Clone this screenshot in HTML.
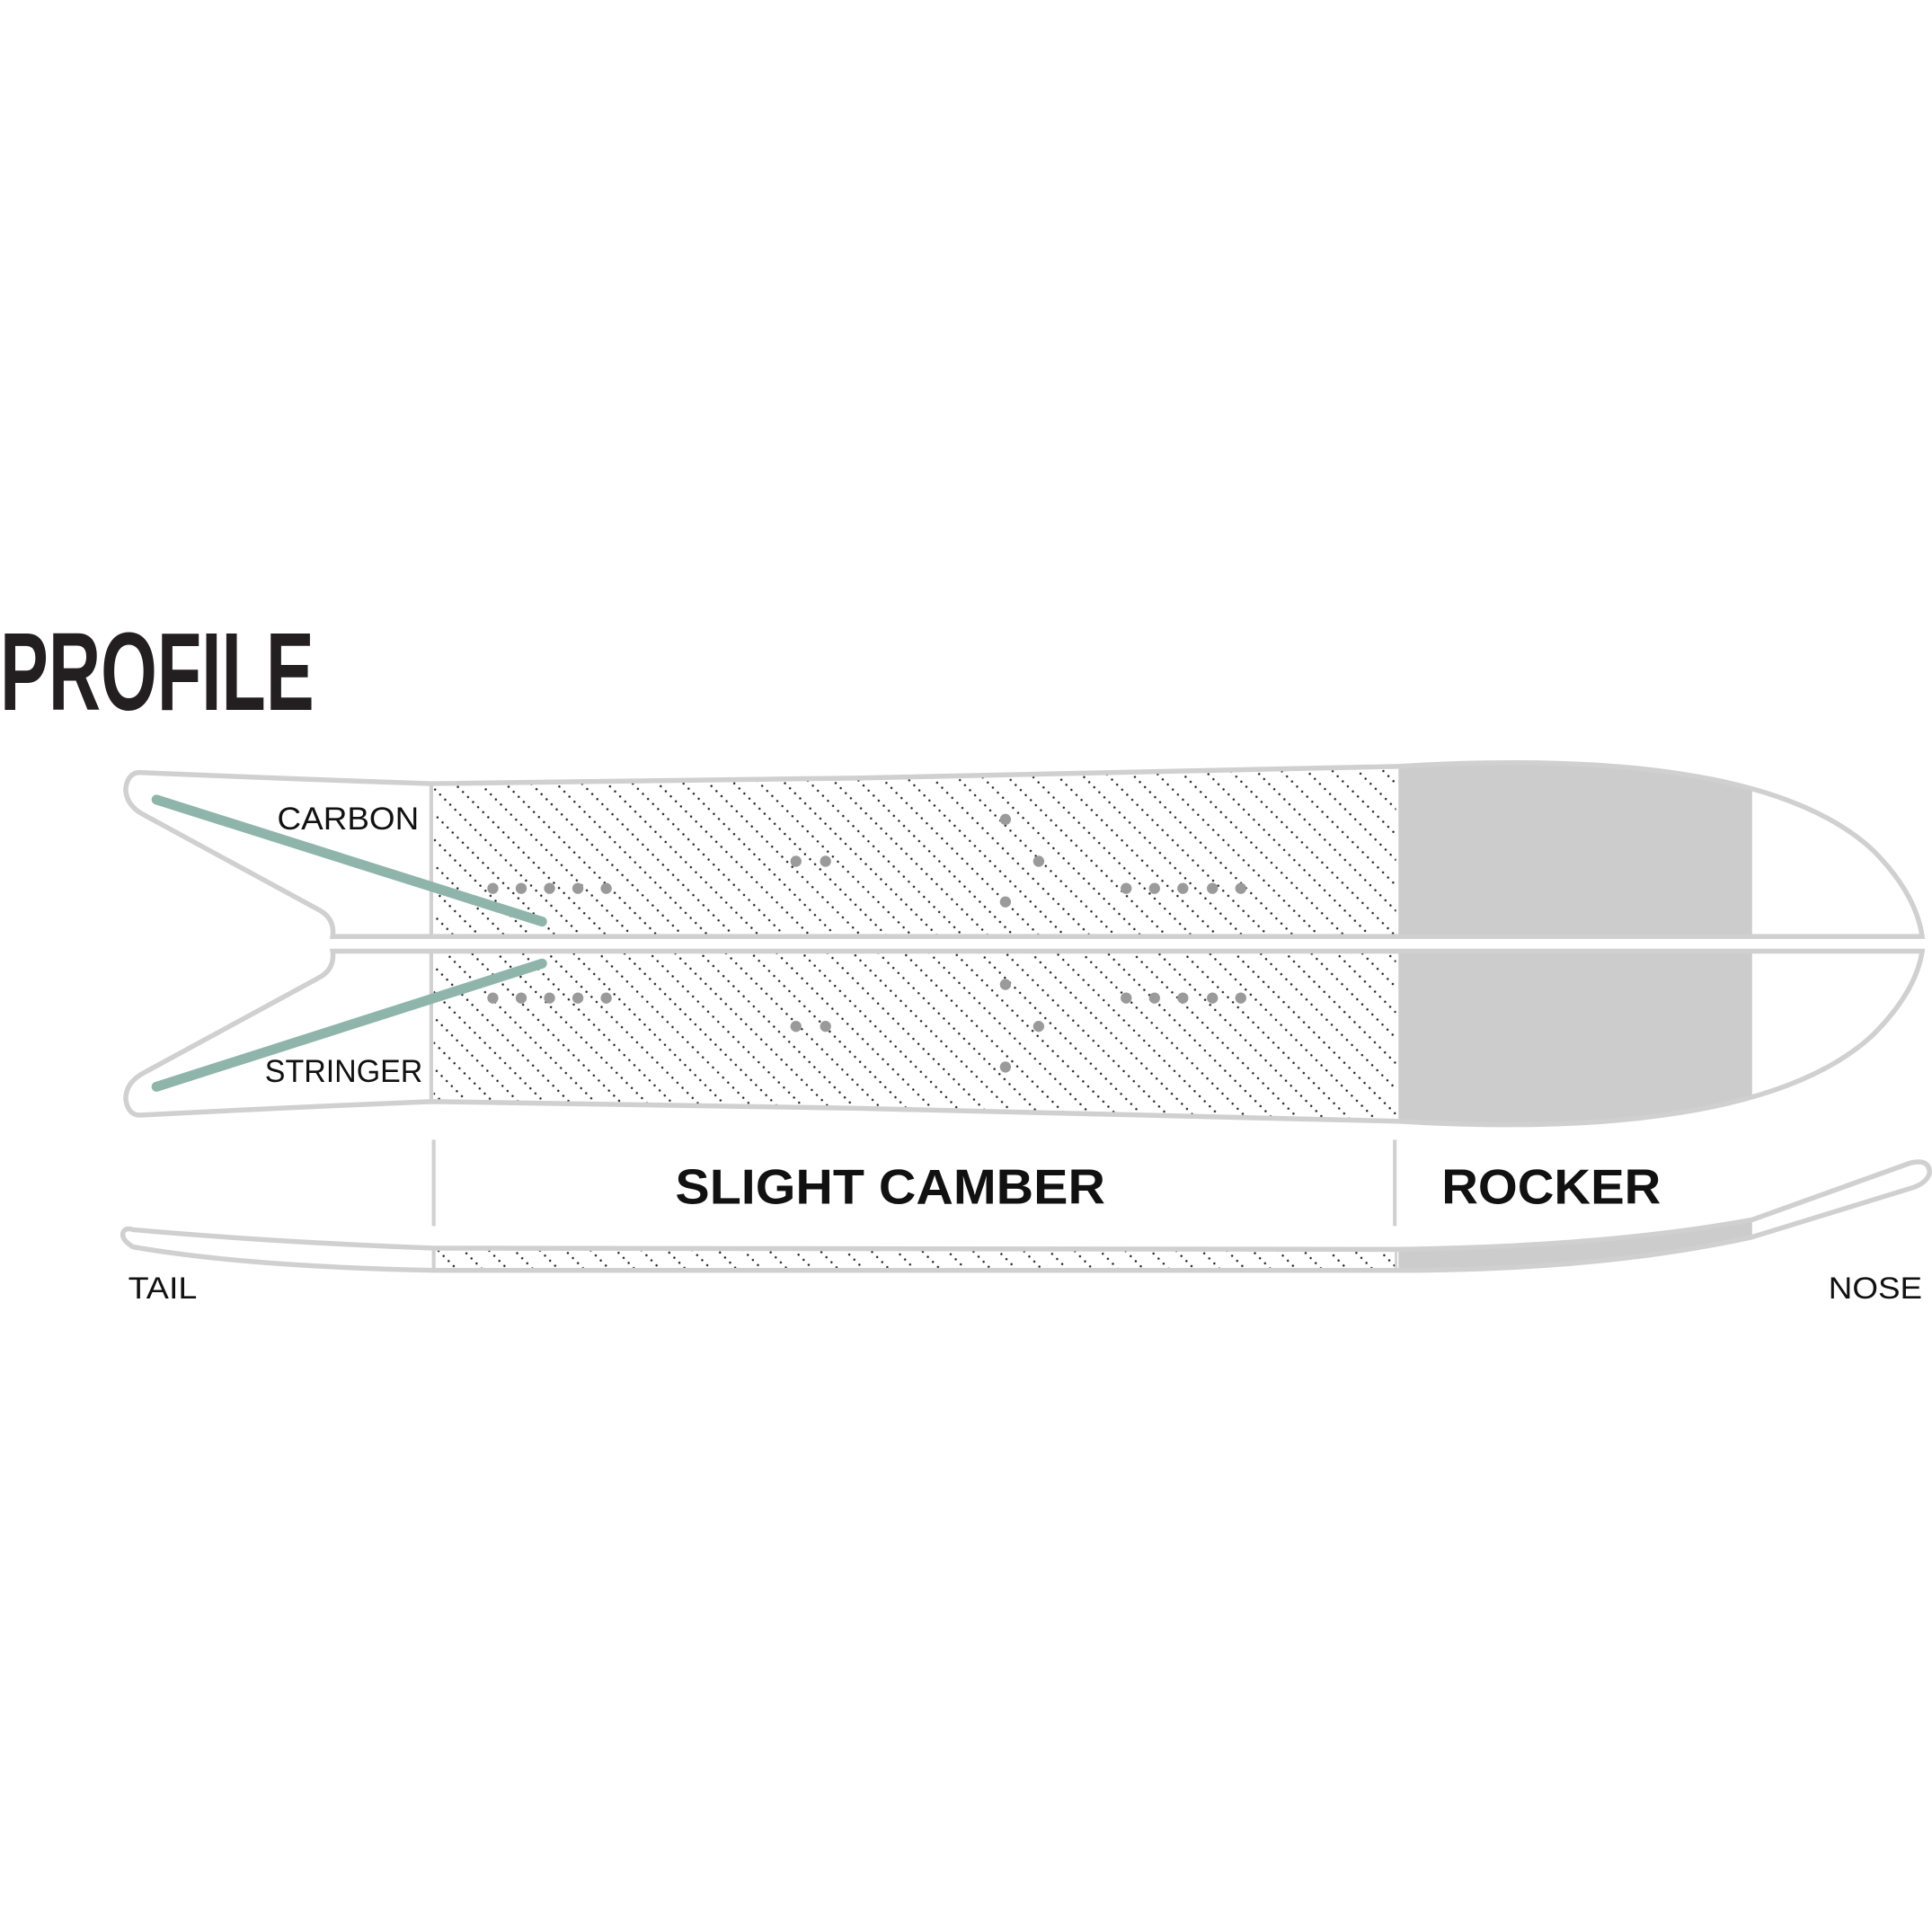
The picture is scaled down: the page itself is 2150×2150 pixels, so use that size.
<!DOCTYPE html>
<html><head><meta charset="utf-8"><style>html,body{margin:0;padding:0;background:#fff}svg{display:block}</style></head>
<body>
<svg width="2150" height="2150" viewBox="0 0 1568 1568" xmlns="http://www.w3.org/2000/svg">
<defs>
<pattern id="h" width="14.6" height="5.8" patternUnits="userSpaceOnUse" patternTransform="rotate(-45)">
<circle cx="1" cy="1" r="0.9" fill="#222"/>
</pattern>
<clipPath id="topc"><path d="M115,627 Q230,632 350,636 C600,634 900,628 1135,622 C1300,612 1450,625 1520,690 Q1555,725 1560,760 L270,760 Q272,745 258,738 L118,662 Q102,654 102,640 Q104,626 115,627 Z"/></clipPath>
<clipPath id="botc"><path d="M270,772 L1560,772 Q1555,805 1520,840 C1450,905 1300,920 1135,910 C900,903 600,897 350,894 Q230,899 115,905 Q104,906 102,892 Q102,878 118,870 L258,794 Q272,787 270,772 Z"/></clipPath>
</defs>
<rect width="1568" height="1568" fill="#fff"/>
<text x="0" y="576" font-family="Liberation Sans Narrow, Liberation Sans, sans-serif" font-weight="bold" font-size="90" fill="#231f20" textLength="255" lengthAdjust="spacingAndGlyphs">PROFILE</text>

<g clip-path="url(#topc)">
<rect x="352" y="600" width="781" height="170" fill="url(#h)"/>
<rect x="1135" y="600" width="287" height="170" fill="#cccccc"/>
</g>
<g clip-path="url(#botc)">
<rect x="352" y="760" width="781" height="170" fill="url(#h)"/>
<rect x="1135" y="760" width="287" height="170" fill="#cccccc"/>
</g>
<path d="M115,627 Q230,632 350,636 C600,634 900,628 1135,622 C1300,612 1450,625 1520,690 Q1555,725 1560,760 L270,760 Q272,745 258,738 L118,662 Q102,654 102,640 Q104,626 115,627 Z" fill="none" stroke="#d0d0d0" stroke-width="4"/>
<path d="M270,772 L1560,772 Q1555,805 1520,840 C1450,905 1300,920 1135,910 C900,903 600,897 350,894 Q230,899 115,905 Q104,906 102,892 Q102,878 118,870 L258,794 Q272,787 270,772 Z" fill="none" stroke="#d0d0d0" stroke-width="4"/>
<line x1="350" y1="636" x2="350" y2="760" stroke="#d0d0d0" stroke-width="3"/>
<line x1="350" y1="772" x2="350" y2="895" stroke="#d0d0d0" stroke-width="3"/>

<g fill="#9a9a9a">
<circle cx="400" cy="721" r="4.5"/><circle cx="423" cy="721" r="4.5"/><circle cx="446" cy="721" r="4.5"/><circle cx="469" cy="721" r="4.5"/><circle cx="492" cy="721" r="4.5"/>
<circle cx="914" cy="721" r="4.5"/><circle cx="937" cy="721" r="4.5"/><circle cx="960" cy="721" r="4.5"/><circle cx="984" cy="721" r="4.5"/><circle cx="1007" cy="721" r="4.5"/>
<circle cx="646" cy="699" r="4.5"/><circle cx="670" cy="699" r="4.5"/><circle cx="843" cy="699" r="4.5"/>
<circle cx="816" cy="665" r="4.5"/><circle cx="816" cy="732" r="4.5"/>
<circle cx="400" cy="810" r="4.5"/><circle cx="423" cy="810" r="4.5"/><circle cx="446" cy="810" r="4.5"/><circle cx="469" cy="810" r="4.5"/><circle cx="492" cy="810" r="4.5"/>
<circle cx="914" cy="810" r="4.5"/><circle cx="937" cy="810" r="4.5"/><circle cx="960" cy="810" r="4.5"/><circle cx="984" cy="810" r="4.5"/><circle cx="1007" cy="810" r="4.5"/>
<circle cx="646" cy="833" r="4.5"/><circle cx="670" cy="833" r="4.5"/><circle cx="843" cy="833" r="4.5"/>
<circle cx="816" cy="799" r="4.5"/><circle cx="816" cy="866" r="4.5"/>
</g>

<line x1="127" y1="649" x2="440" y2="748" stroke="#8fb5ab" stroke-width="8" stroke-linecap="round"/>
<line x1="127" y1="882" x2="440" y2="782" stroke="#8fb5ab" stroke-width="8" stroke-linecap="round"/>

<g font-family="Liberation Sans, sans-serif" fill="#111">
<text x="225" y="673" font-size="26" textLength="115" lengthAdjust="spacingAndGlyphs">CARBON</text>
<text x="215" y="878" font-size="26" textLength="128" lengthAdjust="spacingAndGlyphs">STRINGER</text>
<text x="548" y="977" font-size="40" font-weight="bold" textLength="349" lengthAdjust="spacingAndGlyphs">SLIGHT CAMBER</text>
<text x="1170" y="977" font-size="40" font-weight="bold" textLength="178" lengthAdjust="spacingAndGlyphs">ROCKER</text>
<text x="104" y="1054" font-size="25" textLength="56" lengthAdjust="spacingAndGlyphs">TAIL</text>
<text x="1484" y="1054" font-size="25" textLength="76" lengthAdjust="spacingAndGlyphs">NOSE</text>
</g>

<line x1="352" y1="925" x2="352" y2="995" stroke="#d0d0d0" stroke-width="3"/>
<line x1="1132" y1="925" x2="1132" y2="995" stroke="#d0d0d0" stroke-width="3"/>

<path d="M1135,1014 Q1300,1012 1422,990 L1422,1004 Q1300,1030 1135,1031 Z" fill="#cccccc"/>
<rect x="352" y="1015" width="780" height="14" fill="url(#h)"/>
<path d="M108,998 Q220,1008 352,1013 L1132,1014 Q1300,1012 1422,990 L1550,944 Q1566,940 1566,952 Q1564,960 1552,964 L1422,1004 Q1300,1031 1132,1031 L352,1031 Q200,1028 108,1012 Q98,1006 100,1000 Q102,996 108,998 Z" fill="none" stroke="#d0d0d0" stroke-width="4"/>
<line x1="352" y1="1013" x2="352" y2="1031" stroke="#d0d0d0" stroke-width="3"/>
<line x1="1133" y1="1014" x2="1133" y2="1031" stroke="#d0d0d0" stroke-width="2"/>
</svg>
</body></html>
